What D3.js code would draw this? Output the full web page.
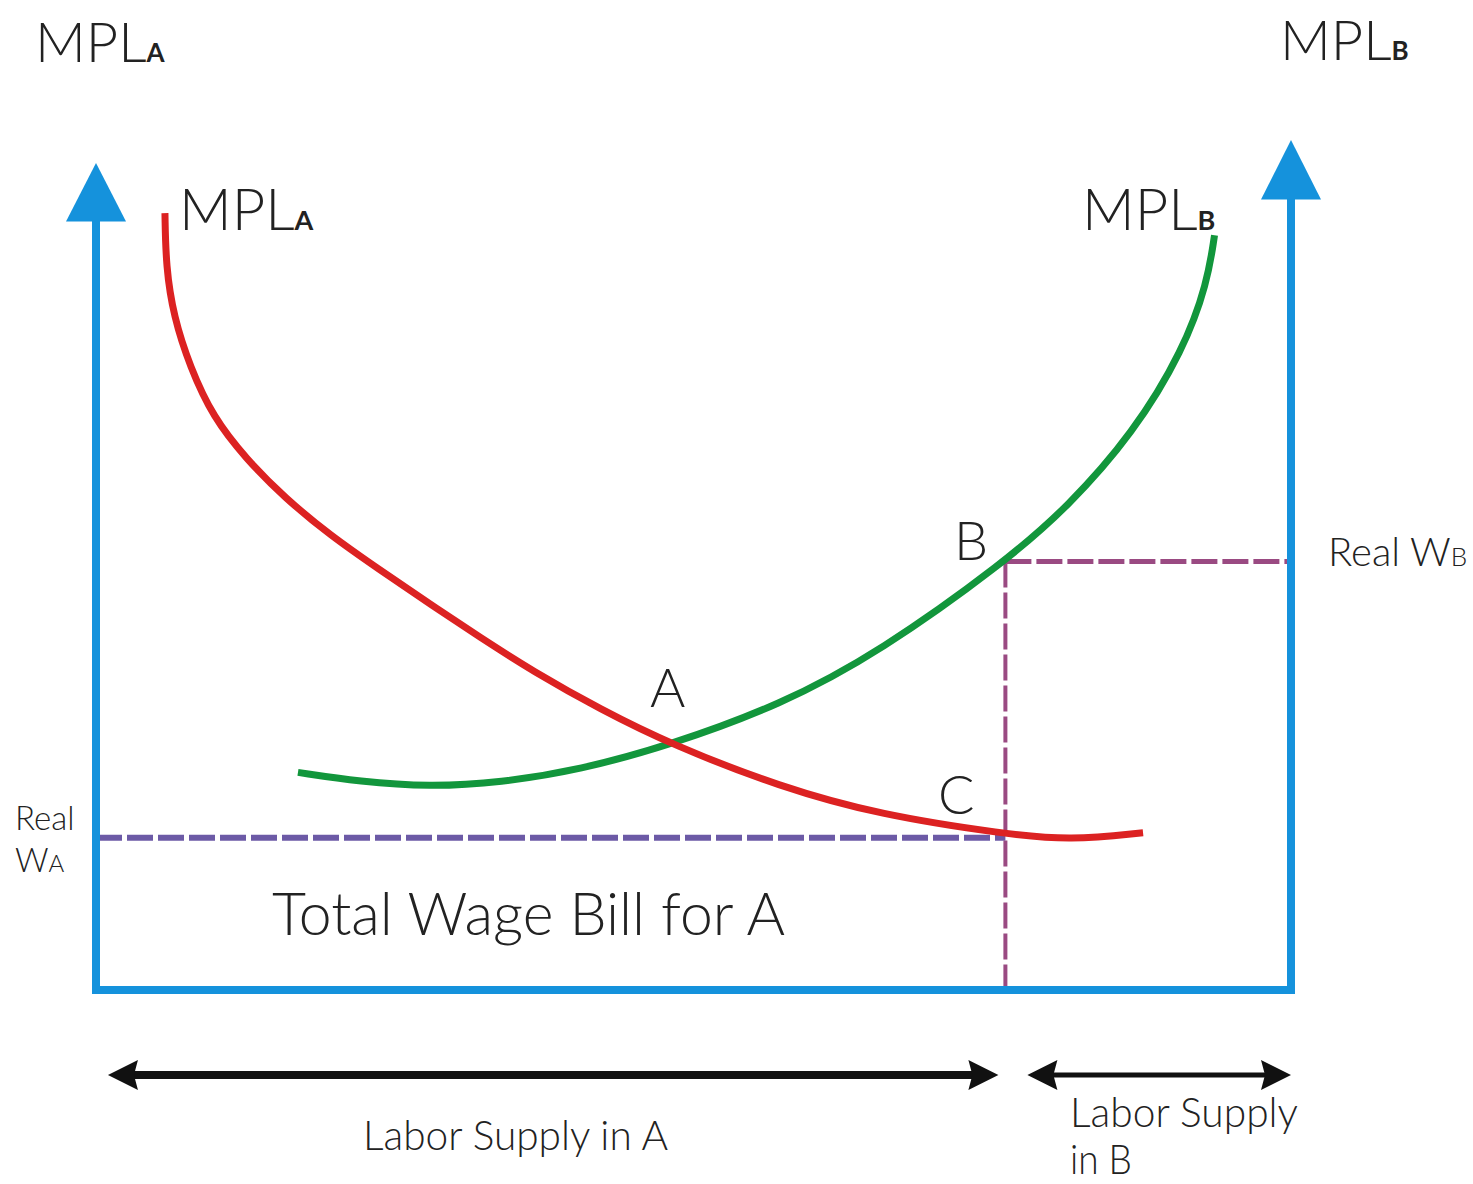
<!DOCTYPE html>
<html>
<head>
<meta charset="utf-8">
<script src="https://cdn.jsdelivr.net/npm/d3@7"></script>
<style>
  body { margin: 0; background: #fff; }
  text { font-family: "Lato", "DejaVu Sans", sans-serif; font-weight: 300; fill: #222; }
</style>
</head>
<body>
<svg id="chart"></svg>
<script>
// labor on x (0 = left axis, 100 = right axis), MPL on y (0 = bottom axis)
const mplA_x = [5.77, 5.85, 6.5, 7.87, 9.79, 12.55, 15.8, 19.58, 23.77, 27.95, 32.13, 36.57, 42.18, 48.28, 57.24, 65.61, 76.07, 81.51, 87.62];
const mplA_y = [91.4, 85.1, 79.2, 73.3, 67.4, 62.5, 57.9, 53.5, 49.4, 45.4, 41.5, 37.5, 33.05, 28.8, 23.9, 20.6, 18.35, 17.6, 18.5];
const mplB_x = [16.9, 22.1, 27.9, 33.8, 40.5, 48.0, 57.24, 65.61, 76.1, 81.3, 86.8, 91.0, 93.0, 93.6];
const mplB_y = [25.6, 24.5, 23.9, 24.4, 25.9, 28.8, 33.5, 39.8, 50.4, 56.8, 65.5, 75.3, 83.2, 88.8];

const wageA = 17.9;   // Real WA
const wageB = 50.4;   // Real WB
const split = 76.1;   // labor divided between A and B

const W = 1473, H = 1184;
const blue = "#1592dc", red = "#dc2222", green = "#12963c";
const purpleA = "#6c5aa6", purpleB = "#9a4a82";

const x = d3.scaleLinear().domain([0, 100]).range([96, 1291]);
const y = d3.scaleLinear().domain([0, 100]).range([990, 140]);

const svg = d3.select("#chart").attr("width", W).attr("height", H);

// dashed guide lines
svg.append("line")
  .attr("x1", x(0)).attr("x2", x(split))
  .attr("y1", y(wageA)).attr("y2", y(wageA))
  .attr("stroke", purpleA).attr("stroke-width", 6)
  .attr("stroke-dasharray", "26,5");
svg.append("line")
  .attr("x1", x(split)).attr("x2", x(split))
  .attr("y1", y(wageB)).attr("y2", y(0))
  .attr("stroke", purpleB).attr("stroke-width", 4)
  .attr("stroke-dasharray", "26,5");
svg.append("line")
  .attr("x1", x(split)).attr("x2", x(100))
  .attr("y1", y(wageB)).attr("y2", y(wageB))
  .attr("stroke", purpleB).attr("stroke-width", 5)
  .attr("stroke-dasharray", "26,5");

// curves
const line = d3.line()
  .x(d => x(d[0]))
  .y(d => y(d[1]))
  .curve(d3.curveBasis);

svg.append("path")
  .datum(d3.zip(mplB_x, mplB_y))
  .attr("d", line)
  .attr("fill", "none").attr("stroke", green).attr("stroke-width", 7);

svg.append("path")
  .datum(d3.zip(mplA_x, mplA_y))
  .attr("d", line)
  .attr("fill", "none").attr("stroke", red).attr("stroke-width", 7);

// axes: two vertical, one bottom
svg.append("path")
  .attr("d", `M${x(0)},${y(92)} L${x(0)},${y(0)} L${x(100)},${y(0)} L${x(100)},${y(94)}`)
  .attr("fill", "none").attr("stroke", blue).attr("stroke-width", 8)
  .attr("stroke-linejoin", "miter");

function upArrow(cx, tipY, baseY) {
  svg.append("path")
    .attr("d", `M${cx},${tipY} L${cx + 30},${baseY} L${cx - 30},${baseY} Z`)
    .attr("fill", blue);
}
upArrow(x(0), y(97.3), y(90.4));
upArrow(x(100), y(100), y(93));

// labor supply double arrows
function dblArrow(x1, x2, yy, sw) {
  svg.append("line")
    .attr("x1", x1 + 20).attr("x2", x2 - 20)
    .attr("y1", yy).attr("y2", yy)
    .attr("stroke", "#111").attr("stroke-width", sw);
  svg.append("path")
    .attr("d", `M${x1},${yy} L${x1 + 30},${yy - 15} L${x1 + 26},${yy} L${x1 + 30},${yy + 15} Z`)
    .attr("fill", "#111");
  svg.append("path")
    .attr("d", `M${x2},${yy} L${x2 - 30},${yy - 15} L${x2 - 26},${yy} L${x2 - 30},${yy + 15} Z`)
    .attr("fill", "#111");
}
dblArrow(x(1), x(split) - 7, 1075, 8);
dblArrow(x(split) + 22, x(100), 1075, 5);

// labels
function label(tx, ty, main, sub, size, subSize) {
  const t = svg.append("text").attr("x", tx).attr("y", ty)
    .attr("font-size", size);
  t.append("tspan").text(main);
  if (sub) t.append("tspan").attr("font-size", subSize).attr("font-weight", "bold").text(sub);
  return t;
}
label(35, 62, "MPL", "A", 56, 26);
label(1280, 60, "MPL", "B", 56, 26);
label(179, 230, "MPL", "A", 58, 27);
label(1082, 230, "MPL", "B", 58, 27);

svg.append("text").attr("x", 650).attr("y", 707).attr("font-size", 54).text("A");
svg.append("text").attr("x", 954).attr("y", 560).attr("font-size", 54).text("B");
svg.append("text").attr("x", 938).attr("y", 814).attr("font-size", 54).text("C");

const rw = svg.append("text").attr("x", 1328).attr("y", 566).attr("font-size", 40);
rw.append("tspan").text("Real W");
rw.append("tspan").attr("font-size", 26).text("B");

svg.append("text").attr("x", 15).attr("y", 830).attr("font-size", 33).text("Real");
const wa = svg.append("text").attr("x", 15).attr("y", 872).attr("font-size", 33);
wa.append("tspan").text("W");
wa.append("tspan").attr("font-size", 24).text("A");

svg.append("text").attr("x", 272).attr("y", 935).attr("font-size", 60)
  .attr("textLength", 513).attr("lengthAdjust", "spacingAndGlyphs")
  .text("Total Wage Bill for A");

svg.append("text").attr("x", 363).attr("y", 1150).attr("font-size", 42)
  .attr("textLength", 305).attr("lengthAdjust", "spacingAndGlyphs")
  .text("Labor Supply in A");
svg.append("text").attr("x", 1070).attr("y", 1127).attr("font-size", 42)
  .attr("textLength", 228).attr("lengthAdjust", "spacingAndGlyphs")
  .text("Labor Supply");
svg.append("text").attr("x", 1070).attr("y", 1174).attr("font-size", 42)
  .attr("textLength", 62).attr("lengthAdjust", "spacingAndGlyphs")
  .text("in B");
</script>
</body>
</html>
